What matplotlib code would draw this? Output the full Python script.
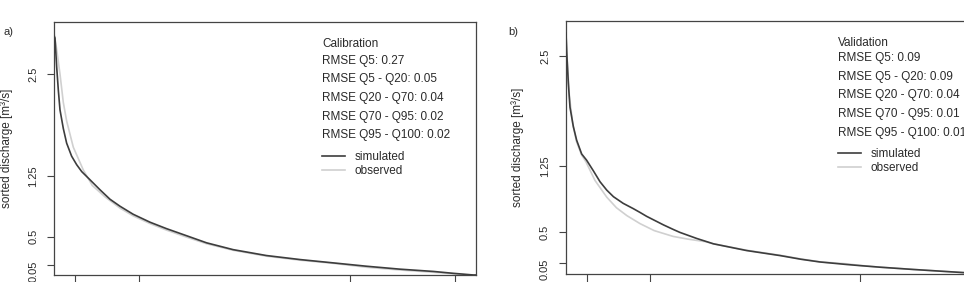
import numpy as np
import matplotlib
matplotlib.use("Agg")
import matplotlib.pyplot as plt
import matplotlib.transforms as mtransforms
from matplotlib.lines import Line2D

plt.rcParams['font.family'] = ['Liberation Sans', 'DejaVu Sans']

# flow duration curves, exceedance [%] vs sorted discharge [m3/s]
pct_cal_sim = [0.0, 0.16, 0.55, 0.95, 1.34, 2.13, 2.92, 4.1, 5.3, 6.5, 8.45, 10.8, 13.2, 15.6, 18.7,
               22.7, 26.6, 31.4, 36.1, 42.4, 50.3, 58.3, 66.1, 74.0, 81.9, 89.9, 94.6, 99.4, 100]
q_cal_sim = [2.96, 2.94, 2.59, 2.30, 2.06, 1.83, 1.65, 1.49, 1.385, 1.30, 1.20, 1.078, 0.96, 0.873, 0.775,
             0.677, 0.598, 0.51, 0.40, 0.29, 0.195, 0.13, 0.077, 0.042, 0.028, 0.017, 0.008, 0.0, 0.0]
pct_cal_obs = [0.0, 0.5, 1.34, 2.13, 2.93, 4.5, 6.87, 9.0, 12.0, 15.6, 18.7, 22.7, 26.6, 31.4, 36.1,
               42.4, 50.3, 58.3, 66.1, 74.0, 81.9, 89.9, 94.6, 98.0, 100]
q_cal_obs = [2.98, 2.82, 2.50, 2.15, 1.92, 1.60, 1.32, 1.13, 0.99, 0.85, 0.755, 0.66, 0.58, 0.49, 0.385,
             0.28, 0.185, 0.12, 0.07, 0.037, 0.024, 0.013, 0.006, 0.0, 0.0]

pct_val_sim = [0.0, 0.16, 0.56, 0.95, 1.75, 2.54, 3.73, 4.9, 6.5, 8.1, 9.7, 11.3, 13.6, 16.0, 17.6,
               19.2, 23.2, 25.5, 27.1, 31.1, 35.1, 43.0, 51.0, 56.0, 60.5, 66.8, 70.0, 74.8, 82.7, 94.8, 100]
q_val_sim = [2.76, 2.55, 2.19, 1.92, 1.70, 1.545, 1.39, 1.32, 1.20, 1.075, 0.98, 0.905, 0.83, 0.77, 0.727,
             0.682, 0.585, 0.534, 0.50, 0.41, 0.33, 0.23, 0.155, 0.10, 0.06, 0.042, 0.037, 0.03, 0.02, 0.006, 0.0]
pct_val_obs = [0.0, 0.3, 0.8, 1.6, 2.5, 3.7, 4.76, 6.9, 9.7, 12.0, 14.5, 17.6, 21.0, 25.5, 29.0, 33.4,
               35.1, 43.0, 51.0, 56.0, 60.5, 66.8, 70.0, 74.8, 82.7, 94.8, 100]
q_val_obs = [2.76, 2.45, 2.05, 1.73, 1.53, 1.38, 1.30, 1.09, 0.90, 0.78, 0.69, 0.60, 0.52, 0.44, 0.40, 0.36,
             0.33, 0.235, 0.16, 0.105, 0.062, 0.045, 0.038, 0.03, 0.02, 0.006, 0.0]

x_ticks = [5, 20, 70, 95]
y_ticks = [0.05, 0.5, 1.25, 2.5]
y_ticklabels = ["0.05", "0.5", "1.25", "2.5"]

cal_text = ["Calibration", "RMSE Q5: 0.27", "RMSE Q5 - Q20: 0.05", "RMSE Q20 - Q70: 0.04",
            "RMSE Q70 - Q95: 0.02", "RMSE Q95 - Q100: 0.02"]
val_text = ["Validation", "RMSE Q5: 0.09", "RMSE Q5 - Q20: 0.09", "RMSE Q20 - Q70: 0.04",
            "RMSE Q70 - Q95: 0.01", "RMSE Q95 - Q100: 0.01"]

# the y axis of the original is stretched unevenly between its ticks
V = [-10, 0, 0.05, 0.5, 1.25, 2.5, 20]
P = [-10.4, 0, 0.052, 0.191, 0.494, 1.0, 1.0 + 17.5 * 0.406]


def fwd(v):
    return np.interp(v, V, P)


def inv(p):
    return np.interp(p, P, V)


dark = '#3d3d3d'
light = '#d0d0d0'
txt = '#2a2a2a'

fig = plt.figure(figsize=(9.64, 2.82), dpi=100)
W, H = 964.0, 282.0

panels = [
    dict(rect=(54.33, 275, 421.7, 253), top=3.137, sim=(pct_cal_sim, q_cal_sim), obs=(pct_cal_obs, q_cal_obs),
         lines=cal_text, tx=322, ty=[44, 61, 79.3, 98, 116.7, 135.3], leg_y=143, tag="a)", tag_x=3, ylab_x=7),
    dict(rect=(566, 274, 420, 253), top=2.896, sim=(pct_val_sim, q_val_sim), obs=(pct_val_obs, q_val_obs),
         lines=val_text, tx=838, ty=[43, 58, 77, 95, 114, 133], leg_y=140, tag="b)", tag_x=508, ylab_x=518),
]

for p in panels:
    x0, yb, w, h = p['rect']
    ax = fig.add_axes([x0 / W, (H - yb) / H, w / W, h / H])
    ax.set_yscale('function', functions=(fwd, inv))
    ax.plot(p['obs'][0], p['obs'][1], color=light, lw=1.2, label='observed', zorder=2)
    ax.plot(p['sim'][0], p['sim'][1], color=dark, lw=1.2, label='simulated', zorder=3)
    ax.set_xlim(0, 100)
    ax.set_ylim(0, p['top'])
    ax.set_xticks(x_ticks)
    ax.set_yticks(y_ticks)
    ax.set_yticklabels(y_ticklabels, rotation=90, va='center', fontsize=8, color=txt)
    ax.minorticks_off()
    ax.tick_params(axis='both', direction='out', length=5, width=0.8, color='#444444')
    ax.tick_params(axis='x', length=9, labelbottom=False)
    ax.tick_params(axis='y', pad=6.5)
    for s in ax.spines.values():
        s.set_color('#444444')
        s.set_linewidth(0.9)
    # lowest label sits a little below its tick in the original
    low = ax.get_yticklabels()[0]
    low.set_transform(low.get_transform() + mtransforms.ScaledTranslation(0, -7 / 100, fig.dpi_scale_trans))

    for line, y in zip(p['lines'], p['ty']):
        fig.text(p['tx'] / W, 1 - y / H, line, fontsize=8.5, color=txt, va='center', ha='left')

    handles = [Line2D([], [], color=dark, lw=1.2), Line2D([], [], color=light, lw=1.2)]
    ax.legend(handles, ['simulated', 'observed'], loc='upper left',
              bbox_to_anchor=((p['tx'] - 8) / W, 1 - p['leg_y'] / H), bbox_transform=fig.transFigure,
              frameon=False, fontsize=8.5, handlelength=1.9, handletextpad=0.85, labelspacing=0.12,
              borderpad=0.2, labelcolor=txt)

    fig.text(p['tag_x'] / W, 1 - 32 / H, p['tag'], fontsize=8, color=txt, va='center', ha='left')
    fig.text(p['ylab_x'] / W, 1 - (yb - h / 2) / H, "sorted discharge [m³/s]", fontsize=8.5, color=txt,
             rotation=90, va='center', ha='center')

fig.savefig('out.png', dpi=100)
